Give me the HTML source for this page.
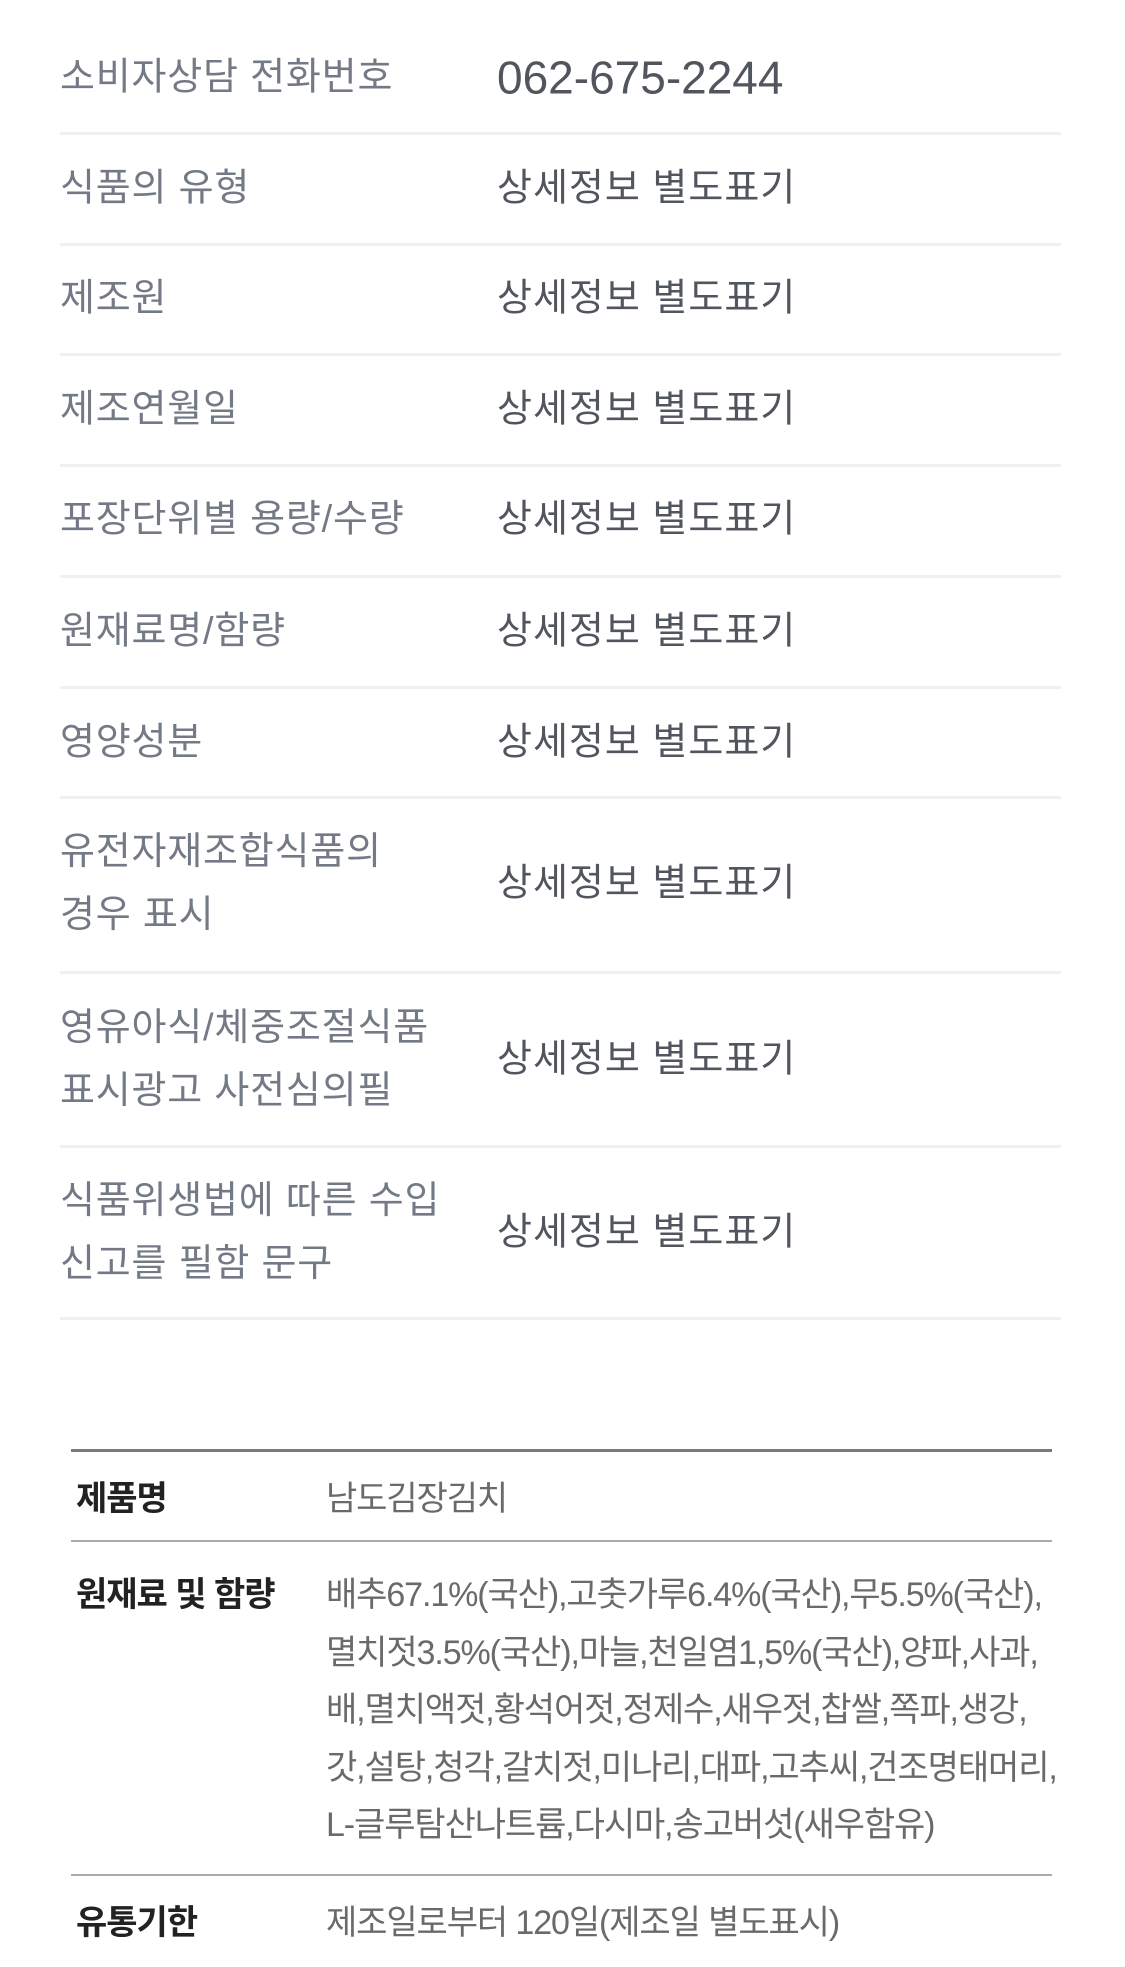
<!DOCTYPE html>
<html><head><meta charset="utf-8"><style>
html,body{margin:0;padding:0;background:#fff;width:1125px;height:1967px;overflow:hidden;position:relative}
body{font-family:"Liberation Sans","Noto Sans CJK KR",sans-serif}
.hr{position:absolute;left:60px;width:1001px;height:3px;background:#f0f0f0}
.l{position:absolute;left:60px;font-size:38px;color:#737a86;letter-spacing:0.8px;line-height:63px;white-space:nowrap;transform:translateY(-50%)}
.v{position:absolute;left:497px;font-size:38px;color:#50555e;letter-spacing:1px;line-height:63px;white-space:nowrap;transform:translateY(-50%)}
.b{position:absolute;left:71px;width:981px;background:#999;height:2px}
.k{position:absolute;left:76px;font-size:34px;font-weight:bold;color:#222;letter-spacing:-1px;white-space:nowrap;line-height:57.5px}
.d{position:absolute;left:326px;font-size:34px;color:#6a6a6a;letter-spacing:-1.1px;white-space:nowrap;line-height:57.5px}
</style></head><body>
<div class="l" style="top:78px">소비자상담 전화번호</div><div class="v" style="top:78px;font-size:46px;letter-spacing:0">062-675-2244</div>
<div class="hr" style="top:132px"></div>
<div class="l" style="top:189px">식품의 유형</div><div class="v" style="top:189px">상세정보 별도표기</div>
<div class="hr" style="top:243px"></div>
<div class="l" style="top:299px">제조원</div><div class="v" style="top:299px">상세정보 별도표기</div>
<div class="hr" style="top:353px"></div>
<div class="l" style="top:410px">제조연월일</div><div class="v" style="top:410px">상세정보 별도표기</div>
<div class="hr" style="top:464px"></div>
<div class="l" style="top:520px">포장단위별 용량/수량</div><div class="v" style="top:520px">상세정보 별도표기</div>
<div class="hr" style="top:575px"></div>
<div class="l" style="top:632px">원재료명/함량</div><div class="v" style="top:632px">상세정보 별도표기</div>
<div class="hr" style="top:686px"></div>
<div class="l" style="top:743px">영양성분</div><div class="v" style="top:743px">상세정보 별도표기</div>
<div class="hr" style="top:796px"></div>
<div class="l" style="top:884px">유전자재조합식품의<br>경우 표시</div><div class="v" style="top:884px">상세정보 별도표기</div>
<div class="hr" style="top:971px"></div>
<div class="l" style="top:1060px">영유아식/체중조절식품<br>표시광고 사전심의필</div><div class="v" style="top:1060px">상세정보 별도표기</div>
<div class="hr" style="top:1145px"></div>
<div class="l" style="top:1233px">식품위생법에 따른 수입<br>신고를 필함 문구</div><div class="v" style="top:1233px">상세정보 별도표기</div>
<div class="hr" style="top:1317px"></div>

<div class="b" style="top:1449px;height:3px;background:#7a7a7a"></div>
<div class="k" style="top:1471px">제품명</div><div class="d" style="top:1471px">남도김장김치</div>
<div class="b" style="top:1540px;background:#aaa"></div>
<div class="k" style="top:1567px">원재료 및 함량</div>
<div class="d" style="top:1567px">배추67.1%(국산),고춧가루6.4%(국산),무5.5%(국산),<br>멸치젓3.5%(국산),마늘,천일염1,5%(국산),양파,사과,<br>배,멸치액젓,황석어젓,정제수,새우젓,찹쌀,쪽파,생강,<br>갓,설탕,청각,갈치젓,미나리,대파,고추씨,건조명태머리,<br>L-글루탐산나트륨,다시마,송고버섯(새우함유)</div>
<div class="b" style="top:1874px;background:#aaa"></div>
<div class="k" style="top:1895px">유통기한</div><div class="d" style="top:1895px">제조일로부터 120일(제조일 별도표시)</div>
</body></html>
